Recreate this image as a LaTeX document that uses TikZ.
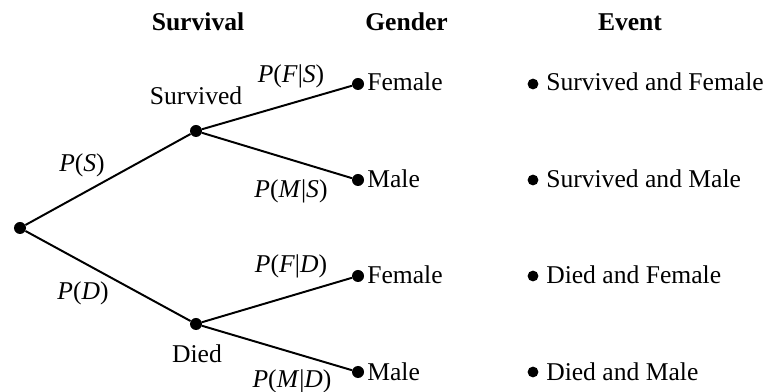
\documentclass[tikz,border=0pt]{standalone}
\usepackage{fontspec}
\setmainfont{Liberation Serif}
\begin{document}
\begin{tikzpicture}[x=0.025cm,y=-0.025cm,
  dot/.style={circle,fill=black,inner sep=0pt,minimum size=0.3cm},
  edge/.style={line width=1.4pt},
  txt/.style={inner sep=0pt,font=\fontsize{18.2}{22}\selectfont},
  head/.style={inner sep=0pt,font=\fontsize{18.2}{22}\selectfont\bfseries},
  prob/.style={txt,anchor=base}]
\useasboundingbox (0,0) rectangle (769,392);

%Headings
\node[head,anchor=base] (hsurv) at (198,31) {Survival};
\node[head,anchor=base west] (hgend) at (365,31) {Gender};
\node[head,anchor=base] (hevent) at (630,31) {Event};

%Tree points
\node[dot] (root) at (20,228) {};
\node[dot] (surv) at (196,131) {};
\node[dot] (died) at (196,324) {};
\node[dot] (sf) at (358,84) {};
\node[dot] (sm) at (358,180) {};
\node[dot] (df) at (358,276) {};
\node[dot] (dm) at (358,372) {};

%Branches
\draw[edge] (root)--(surv);
\draw[edge] (root)--(died);
\draw[edge] (surv)--(sf);
\draw[edge] (surv)--(sm);
\draw[edge] (died)--(df);
\draw[edge] (died)--(dm);

%Branch labels
\node[prob] (lsurv) at (196,105) {Survived};
\node[prob] (ldied) at (197,363) {Died};
\node[prob] (ps) at (82,172) {\textit{P}(\textit{S})};
\node[prob] (pd) at (83,300) {\textit{P}(\textit{D})};
\node[prob] (pfs) at (291,83) {\textit{P}(\textit{F}|\textit{S})};
\node[prob] (pms) at (291,198) {\textit{P}(\textit{M}|\textit{S})};
\node[prob] (pfd) at (291,273) {\textit{P}(\textit{F}|\textit{D})};
\node[prob] (pmd) at (292,388) {\textit{P}(\textit{M}|\textit{D})};

%Gender
\node[txt,anchor=base west] (gsf) at (367,91) {Female};
\node[txt,anchor=base west] (gsm) at (367,188) {Male};
\node[txt,anchor=base west] (gdf) at (367,284) {Female};
\node[txt,anchor=base west] (gdm) at (367,380) {Male};

%Events
\node[dot,minimum size=0.27cm] (esf) at (533,84) {};
\node[dot,minimum size=0.27cm] (esm) at (533,180) {};
\node[dot,minimum size=0.27cm] (edf) at (533,276) {};
\node[dot,minimum size=0.27cm] (edm) at (533,372) {};
\node[txt,anchor=base west] (tsf) at (546,91) {Survived and Female};
\node[txt,anchor=base west] (tsm) at (546,188) {Survived and Male};
\node[txt,anchor=base west] (tdf) at (546,284) {Died and Female};
\node[txt,anchor=base west] (tdm) at (546,380) {Died and Male};
\end{tikzpicture}
\end{document}
